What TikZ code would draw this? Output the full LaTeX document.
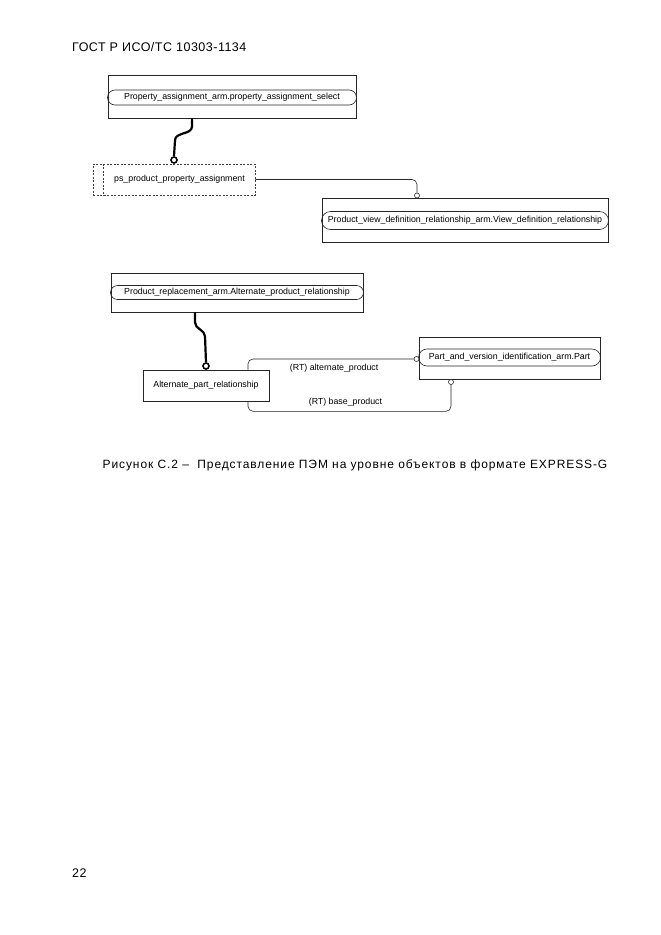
\documentclass[tikz,border=0pt]{standalone}
\usepackage{fontspec}
\setmainfont{Liberation Sans}
\newfontfamily\spacedfont[LetterSpace=7.5]{Liberation Sans}
\newfontfamily\headfont[LetterSpace=4]{Liberation Sans}
\usetikzlibrary{shapes.misc, positioning, calc}
\newcommand{\diagfont}{\fontsize{8.8}{10}\selectfont}

\begin{document}
\begin{tikzpicture}[x=1pt, y=-1pt]
        \tikzstyle{entity} = [rectangle, draw=black!85, line width=0.8pt, inner sep=0pt]
        \tikzstyle{capsule} = [rounded rectangle, draw=black!85, line width=0.6pt, inner sep=0pt, font=\diagfont]
        \tikzstyle{selectbox} = [rectangle, draw=black!75, line width=0.6pt, dash pattern=on 2pt off 1.5pt, inner sep=0pt, font=\diagfont]
        \tikzstyle{plainbox} = [rectangle, draw=black!85, line width=0.6pt, inner sep=0pt, font=\diagfont]
        \tikzstyle{thicklink} = [line width=2.2pt]
        \tikzstyle{link} = [line width=0.6pt, draw=black!85, rounded corners=5pt]
        \tikzstyle{bigdot} = [circle, draw, line width=1.6pt, fill=white, minimum size=6pt, inner sep=0pt]
        \tikzstyle{smalldot} = [circle, draw=black!85, line width=0.6pt, fill=white, minimum size=5pt, inner sep=0pt]

        \fill[white] (0,0) rectangle (661,935);

        % page header, caption and page number
        \node (header) [anchor=base west, inner sep=0pt, font=\headfont\fontsize{12.5}{14}\selectfont] at (72,51) {ГОСТ Р ИСО/ТС 10303-1134};
        \node (caption) [anchor=base, inner sep=0pt, font=\spacedfont\fontsize{12}{14}\selectfont] at (355,468) {Рисунок С.2 – \ Представление ПЭМ на уровне объектов в формате EXPRESS-G};
        \node (pagenum) [anchor=base west, inner sep=0pt, font=\headfont\fontsize{12.5}{14}\selectfont] at (72,877) {22};

        % upper diagram
        \node (pasel) [entity, minimum width=248pt, minimum height=43pt] at (232,96.5) {};
        \node (paselname) [capsule, minimum width=249pt, minimum height=15pt] at (232,97.5) {Property\_assignment\_arm.property\_assignment\_select};
        \node (psppa) [selectbox, minimum width=162pt, minimum height=31pt] at (174,179.5) {\hspace{11pt}ps\_product\_property\_assignment};
        \draw [black!75, line width=0.6pt, dash pattern=on 2pt off 1.5pt] ([xshift=11pt]psppa.north west) -- ([xshift=11pt]psppa.south west);
        \node (pvdr) [entity, minimum width=286pt, minimum height=44pt] at (465,220) {};
        \node (pvdrname) [capsule, minimum width=287pt, minimum height=18pt] at (465,220.5) {Product\_view\_definition\_relationship\_arm.View\_definition\_relationship};

        \node (dotpa) [bigdot] at (174,160) {};
        \node (dotpv) [smalldot] at (417,195.5) {};

        \draw [thicklink] ([xshift=-40pt]pasel.south) -- ++(0,8) to[out=-90,in=90] ++(-17,14) -- (dotpa.north);
        \draw [link] (psppa.east) -| (dotpv.north);

        % lower diagram
        \node (prepl) [entity, minimum width=252pt, minimum height=39pt] at (237,292.5) {};
        \node (preplname) [capsule, minimum width=253pt, minimum height=14pt] at (237,292.5) {Product\_replacement\_arm.Alternate\_product\_relationship};
        \node (apr) [plainbox, minimum width=126pt, minimum height=31pt] at (206,385.5) {Alternate\_part\_relationship};
        \node (part) [entity, minimum width=181pt, minimum height=42pt] at (509.5,358) {};
        \node (partname) [capsule, minimum width=182pt, minimum height=17pt] at (509.5,357.5) {Part\_and\_version\_identification\_arm.Part};

        \node (dotar) [bigdot] at (206,366) {};
        \node (dotalt) [smalldot] at (416.5,359) {};
        \node (dotbase) [smalldot] at (451,382) {};

        \draw [thicklink] ([xshift=-42pt]prepl.south) -- ++(0,10) to[out=-90,in=90] ++(10,14) -- (dotar.north);
        \draw [link] ([xshift=42pt]apr.north) |- node[pos=0.76, below=1pt, font=\diagfont] {(RT) alternate\_product} (dotalt.west);
        \draw [link] ([xshift=42pt]apr.south) -- ++(0,10) -| node[pos=0.24, above=1pt, font=\diagfont] {(RT) base\_product} (dotbase.south);
\end{tikzpicture}
\end{document}
